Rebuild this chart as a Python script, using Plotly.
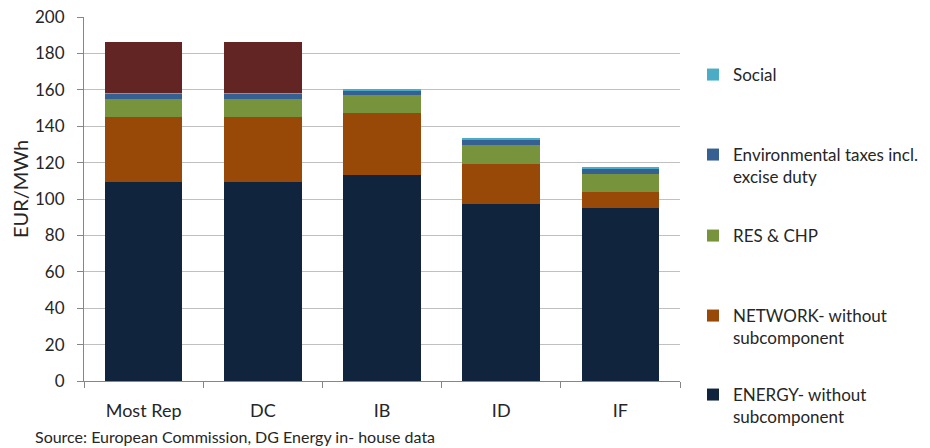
import plotly.graph_objects as go

categories = ["Most Rep", "DC", "IB", "ID", "IF"]
energy = [109.5, 109.5, 113.0, 97.0, 95.0]
network = [35.5, 35.5, 34.0, 22.5, 9.0]
res_chp = [10.0, 10.0, 10.0, 10.0, 10.0]
env_taxes = [3.0, 3.0, 2.5, 3.0, 3.0]
social = [0.5, 0.5, 0.5, 0.5, 0.5]
vat = [27.5, 27.5, 0.0, 0.0, 0.0]

# (legend label, values, colour, legend id, text centre y on screen)
series = [
    ("ENERGY- without<br>subcomponent", energy, "#10243E", "legend6", 395),
    ("NETWORK- without<br>subcomponent", network, "#984807", "legend5", 316),
    ("RES & CHP", res_chp, "#77933C", "legend4", 236),
    ("Environmental taxes incl.<br>excise duty", env_taxes, "#376092", "legend3", 155),
    ("Social", social, "#4BACC6", "legend2", 75),
    ("VAT", vat, "#632523", "legend", 0),
]

OFF = 8  # page body margin
W, H = 922, 440
L, T = 84 - OFF, 17 - OFF
R = W - (680 - OFF)
B = H - (381 - OFF)
pw, ph = W - L - R, H - T - B
FONT = "Lato"
TXT = "#262626"

def px(xs):
    return (xs - OFF - L) / pw

def py(ys):
    return (H - B - (ys - OFF)) / ph

fig = go.Figure()
for name, vals, color, lg, _ in series:
    fig.add_trace(go.Bar(x=categories, y=vals, name=name, marker_color=color,
                         marker_line_width=0, legend=lg))

legend_layout = {}
for name, vals, color, lg, cy in series:
    legend_layout[lg] = dict(
        x=px(733 - 40), xanchor="left",
        y=py(cy - 18), yanchor="top",
        font=dict(family=FONT, size=17, color=TXT),
        bgcolor="rgba(0,0,0,0)", valign="top",
    )

fig.update_layout(
    width=W, height=H,
    margin=dict(l=L, r=R, t=T, b=B, autoexpand=False),
    barmode="stack", bargap=0.35,
    plot_bgcolor="white", paper_bgcolor="white",
    font=dict(family=FONT, size=17, color=TXT),
    **legend_layout,
)
fig.update_xaxes(
    type="category", showline=True, linecolor="#868686", linewidth=1,
    ticks="outside", tickson="boundaries", ticklen=6, tickcolor="#868686",
    tickfont=dict(family=FONT, size=18, color=TXT),
    ticklabelstandoff=13, showgrid=False,
)
fig.update_yaxes(
    range=[0, 200], dtick=20, showline=True, linecolor="#868686", linewidth=1,
    ticks="outside", ticklen=6, tickcolor="#868686",
    gridcolor="#C0C0C0", gridwidth=1, zeroline=False,
    tickfont=dict(family=FONT, size=17, color=TXT),
    ticklabelstandoff=9, ticklabeloverflow="allow",
)
fig.add_annotation(text="EUR/MWh", xref="paper", yref="paper",
                   x=px(20), y=py(189), textangle=-90,
                   showarrow=False, font=dict(family=FONT, size=20, color=TXT),
                   xanchor="center", yanchor="middle")
fig.add_annotation(text="Source: European Commission, DG Energy in- house data",
                   xref="paper", yref="paper",
                   x=px(33), y=py(437), showarrow=False,
                   font=dict(family=FONT, size=16, color=TXT),
                   xanchor="left", yanchor="middle")

fig.write_html("out.html")
